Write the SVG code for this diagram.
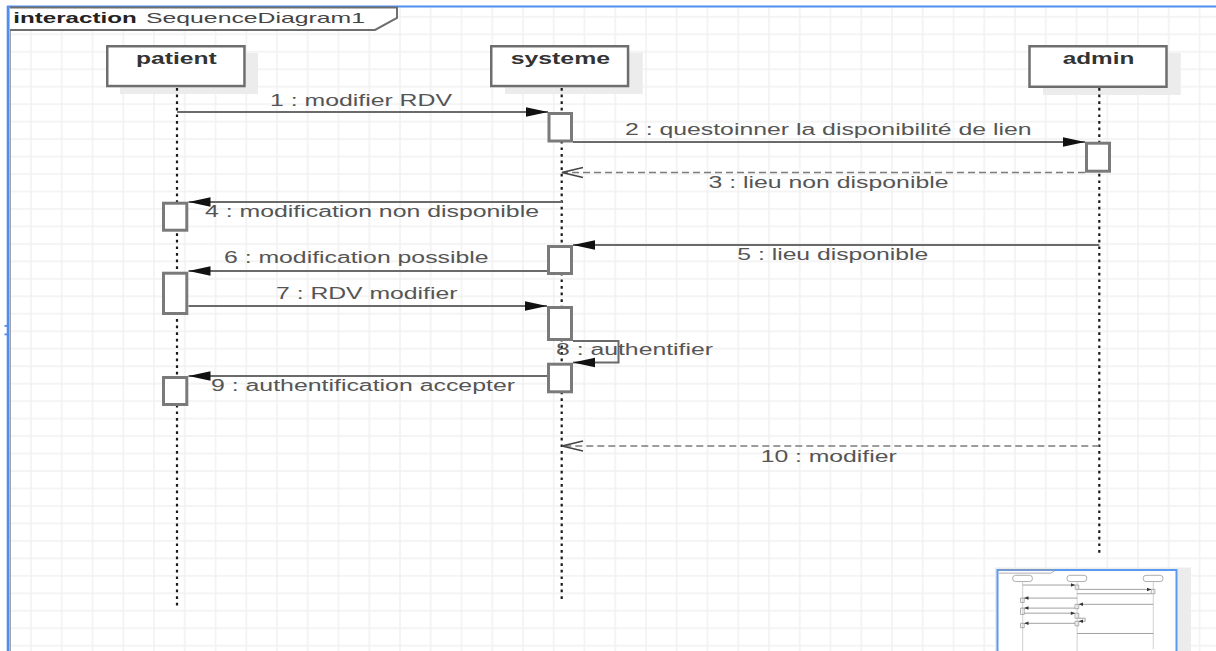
<svg xmlns="http://www.w3.org/2000/svg" width="1216" height="651" viewBox="0 0 1216 651">
<defs>
  <pattern id="grid" patternUnits="userSpaceOnUse" x="-0.75" y="-1.64" width="30.75" height="17.47">
    <path d="M1 0V17.47M0 1H30.75" stroke="#f1f1f1" stroke-width="1.5" fill="none"/>
  </pattern>
  <marker id="filled" markerUnits="userSpaceOnUse" markerWidth="24" markerHeight="12" refX="22" refY="4.7" orient="auto" overflow="visible">
    <path d="M0,0 L22,4.7 L0,9.4 Z" fill="#111"/>
  </marker>
  <marker id="open" markerUnits="userSpaceOnUse" markerWidth="24" markerHeight="12" refX="21" refY="5" orient="auto" overflow="visible">
    <path d="M0,0 L21,5 L0,10" fill="none" stroke="#444" stroke-width="1.5"/>
  </marker>
</defs>
<style>
  .msg { stroke:#6a6a6a; stroke-width:2; fill:none; }
  .ret { stroke:#7c7c7c; stroke-width:1.6; stroke-dasharray:7 4; fill:none; }
  .life { stroke:#1a1a1a; stroke-width:2.2; stroke-dasharray:2.7 3.9; fill:none; }
  .act { fill:#ffffff; stroke:#7a7a7a; stroke-width:3; }
  .head { fill:#ffffff; stroke:#6e6e6e; stroke-width:2.5; }
  .shadow { fill:#ececec; }
  .lbl { font-family:"Liberation Sans", Arial, sans-serif; font-size:16px; fill:#555555; }
  .hlbl { font-family:"Liberation Sans", Arial, sans-serif; font-size:16px; font-weight:bold; fill:#333333; }
  .mm { vector-effect:non-scaling-stroke; stroke-width:0.8; fill:none; }
</style>

<rect x="0" y="0" width="1216" height="651" fill="#ffffff"/>
<rect x="10" y="7" width="1206" height="644" fill="url(#grid)"/>

<!-- window border -->
<g id="border">
  <line x1="7" y1="6.5" x2="1216" y2="6.5" stroke="#4f8ef0" stroke-width="2"/>
  <line x1="8" y1="6" x2="8" y2="651" stroke="#4f8ef0" stroke-width="2.6"/>
  <line x1="10.2" y1="7" x2="10.2" y2="651" stroke="#9a9a9a" stroke-width="1.4"/>
  <rect x="4.5" y="325" width="3" height="1.8" fill="#4f8ef0"/>
  <rect x="4.5" y="333.5" width="3" height="1.8" fill="#4f8ef0"/>
</g>

<!-- interaction frame -->
<g id="frame">
  <path d="M10,7.5 H397 V18 L375,30 H10" fill="#ffffff" stroke="#6e6e6e" stroke-width="2"/>
  <text y="22.8" font-family="Liberation Sans, Arial, sans-serif" font-size="15"><tspan x="13.3" font-weight="bold" fill="#222222" textLength="123.4" lengthAdjust="spacingAndGlyphs">interaction</tspan> <tspan x="146" fill="#444444" textLength="219" lengthAdjust="spacingAndGlyphs">SequenceDiagram1</tspan></text>
</g>

<!-- lifelines -->
<g id="patient">
  <rect class="shadow" x="120" y="53" width="138" height="41"/>
  <rect class="head" x="107.25" y="46.25" width="137.2" height="39.8"/>
  <text class="hlbl" x="136" y="64.3" textLength="80.7" lengthAdjust="spacingAndGlyphs">patient</text>
  <line class="life" x1="177" y1="88" x2="177" y2="606"/>
</g>
<g id="systeme">
  <rect class="shadow" x="505" y="52.7" width="137.7" height="41.3"/>
  <rect class="head" x="491.25" y="46.25" width="136.8" height="39.8"/>
  <text class="hlbl" x="510.7" y="64.3" textLength="99.3" lengthAdjust="spacingAndGlyphs">systeme</text>
  <line class="life" x1="561.7" y1="88" x2="561.7" y2="600"/>
</g>
<g id="admin">
  <rect class="shadow" x="1043" y="53" width="137.7" height="42"/>
  <rect class="head" x="1029.5" y="46.25" width="137" height="40.5"/>
  <text class="hlbl" x="1062.7" y="64.3" textLength="71.6" lengthAdjust="spacingAndGlyphs">admin</text>
  <line class="life" x1="1099.3" y1="88" x2="1099.3" y2="553"/>
</g>

<!-- activations -->
<g id="activations">
  <rect class="act" x="549" y="113.5" width="22.5" height="27.5"/>
  <rect class="act" x="1086.5" y="143.2" width="23" height="28"/>
  <rect class="act" x="163.5" y="203.2" width="23.3" height="27"/>
  <rect class="act" x="548.5" y="246.5" width="23" height="27"/>
  <rect class="act" x="163.5" y="273.2" width="23.3" height="40.3"/>
  <rect class="act" x="548.5" y="307.5" width="23" height="32"/>
  <rect class="act" x="548.5" y="364.2" width="23" height="27.6"/>
  <rect class="act" x="163.5" y="377.5" width="23.3" height="27"/>
</g>

<!-- connectors -->
<g id="connectors">
  <line class="msg" x1="177" y1="112" x2="548" y2="112" marker-end="url(#filled)"/>
  <line class="msg" x1="573" y1="142" x2="1085" y2="142" marker-end="url(#filled)"/>
  <line class="ret" x1="1085" y1="172.5" x2="562" y2="172.5" marker-end="url(#open)"/>
  <line class="msg" x1="562" y1="202" x2="188.5" y2="202" marker-end="url(#filled)"/>
  <line class="msg" x1="1099.3" y1="245" x2="573" y2="245" marker-end="url(#filled)"/>
  <line class="msg" x1="547" y1="271" x2="188.5" y2="271" marker-end="url(#filled)"/>
  <line class="msg" x1="188.5" y1="306" x2="547" y2="306" marker-end="url(#filled)"/>
  <path class="msg" d="M573,341 H618.5 V362.5 H573" marker-end="url(#filled)"/>
  <line class="msg" x1="547" y1="376" x2="188.5" y2="376" marker-end="url(#filled)"/>
  <line class="ret" x1="1099.3" y1="446" x2="562" y2="446" marker-end="url(#open)"/>
</g>

<!-- message labels -->
<g id="message-labels">
  <text class="lbl" x="270" y="106" textLength="182" lengthAdjust="spacingAndGlyphs">1 : modifier RDV</text>
  <text class="lbl" x="625" y="135" textLength="406.6" lengthAdjust="spacingAndGlyphs">2 : questoinner la disponibilité de lien</text>
  <text class="lbl" x="708.5" y="188.3" textLength="240" lengthAdjust="spacingAndGlyphs">3 : lieu non disponible</text>
  <text class="lbl" x="205" y="217.3" textLength="334" lengthAdjust="spacingAndGlyphs">4 : modification non disponible</text>
  <text class="lbl" x="737.3" y="260" textLength="191" lengthAdjust="spacingAndGlyphs">5 : lieu disponible</text>
  <text class="lbl" x="224" y="263.3" textLength="264.5" lengthAdjust="spacingAndGlyphs">6 : modification possible</text>
  <text class="lbl" x="276" y="299.3" textLength="181.5" lengthAdjust="spacingAndGlyphs">7 : RDV modifier</text>
  <text class="lbl" x="556" y="355" textLength="157" lengthAdjust="spacingAndGlyphs">8 : authentifier</text>
  <text class="lbl" x="211" y="390.7" textLength="304" lengthAdjust="spacingAndGlyphs">9 : authentification accepter</text>
  <text class="lbl" x="760.7" y="461.7" textLength="136" lengthAdjust="spacingAndGlyphs">10 : modifier</text>
</g>

<!-- overview minimap -->
<g id="minimap">
  <rect x="995" y="567.5" width="196" height="84" fill="#ececec"/>
  <rect x="997.5" y="570" width="179" height="82" fill="#ffffff" stroke="#5b9bef" stroke-width="2"/>
  <g transform="translate(997.6,568.8) scale(0.1416,0.145)">
    <path class="mm" d="M10,7.5 H397 V18 L375,30 H10" stroke="#999"/>
    <rect class="mm" x="106" y="45" width="140" height="43" rx="20" stroke="#999"/>
    <rect class="mm" x="490" y="45" width="140" height="43" rx="20" stroke="#999"/>
    <rect class="mm" x="1028" y="45" width="140" height="43" rx="20" stroke="#999"/>
    <line class="mm" x1="177" y1="88" x2="177" y2="606" stroke="#c4c4c4"/>
    <line class="mm" x1="561.7" y1="88" x2="561.7" y2="600" stroke="#c4c4c4"/>
    <line class="mm" x1="1099.3" y1="88" x2="1099.3" y2="553" stroke="#c4c4c4"/>
    <g stroke="#999" fill="#fff">
      <rect class="mm" x="548" y="112" width="25" height="30" fill="#fff"/>
      <rect class="mm" x="1085" y="142" width="26" height="30" fill="#fff"/>
      <rect class="mm" x="162" y="202" width="26" height="30" fill="#fff"/>
      <rect class="mm" x="547" y="245" width="26" height="30" fill="#fff"/>
      <rect class="mm" x="162" y="271" width="26" height="44" fill="#fff"/>
      <rect class="mm" x="547" y="306" width="26" height="35" fill="#fff"/>
      <rect class="mm" x="547" y="362" width="26" height="31" fill="#fff"/>
      <rect class="mm" x="162" y="376" width="26" height="30" fill="#fff"/>
    </g>
    <g stroke="#8a8a8a">
      <line class="mm" x1="177" y1="112" x2="548" y2="112"/>
      <line class="mm" x1="573" y1="142" x2="1085" y2="142"/>
      <line class="mm" x1="1085" y1="172" x2="562" y2="172"/>
      <line class="mm" x1="562" y1="202" x2="188" y2="202"/>
      <line class="mm" x1="1099" y1="245" x2="573" y2="245"/>
      <line class="mm" x1="547" y1="271" x2="188" y2="271"/>
      <line class="mm" x1="188" y1="306" x2="547" y2="306"/>
      <path class="mm" d="M573,341 H618 V362 H573"/>
      <line class="mm" x1="547" y1="376" x2="188" y2="376"/>
      <line class="mm" x1="1099" y1="446" x2="562" y2="446"/>
    </g>
    <g fill="#333">
      <path d="M548,112 l-30,-12 v24 z"/>
      <path d="M1085,142 l-30,-12 v24 z"/>
      <path d="M188,202 l30,-12 v24 z"/>
      <path d="M573,245 l30,-12 v24 z"/>
      <path d="M188,271 l30,-12 v24 z"/>
      <path d="M547,306 l-30,-12 v24 z"/>
      <path d="M573,362 l30,-12 v24 z"/>
      <path d="M188,376 l30,-12 v24 z"/>
    </g>
  </g>
</g>
</svg>
